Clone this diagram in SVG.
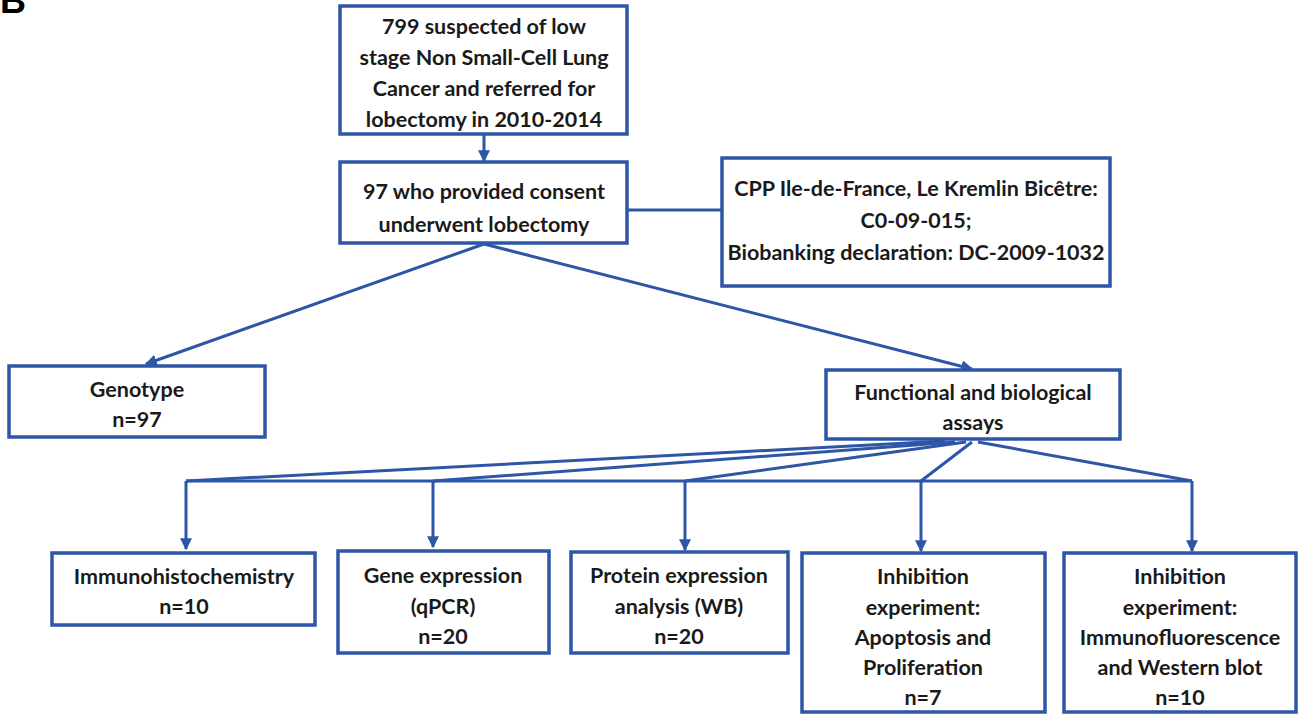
<svg xmlns="http://www.w3.org/2000/svg" width="1315" height="717" viewBox="0 0 1315 717">
<defs>
<marker id="ah" viewBox="0 0 10 10" refX="9" refY="5" markerWidth="4" markerHeight="4" markerUnits="strokeWidth" orient="auto">
<path d="M0,0 L10,5 L0,10 z" fill="#2d56a6"/>
</marker>
<style>
.box{fill:#ffffff;stroke:#2d56a6;stroke-width:3.5}
.t{font-family:Lato,"Liberation Sans",sans-serif;font-weight:bold;font-size:21.5px;fill:#1a1a1a;text-anchor:middle}
.c{fill:none;stroke:#2d56a6;stroke-width:3}
.ca{fill:none;stroke:#2d56a6;stroke-width:3;marker-end:url(#ah)}
</style>
</defs>
<rect width="1315" height="717" fill="#ffffff"/>
<text x="0" y="13" style="font-family:'Liberation Sans',sans-serif;font-weight:bold;font-size:36px;fill:#000">B</text>
<g id="connectors">
<line class="ca" x1="484" y1="135" x2="484" y2="161"/>
<line class="c" x1="627" y1="210" x2="722" y2="210"/>
<line class="ca" x1="484" y1="244" x2="146" y2="364"/>
<line class="ca" x1="484" y1="244" x2="972" y2="369"/>
<line class="c" x1="186" y1="481" x2="1192" y2="481"/>
<line class="c" x1="945" y1="441" x2="186" y2="481"/>
<line class="c" x1="955" y1="442" x2="433" y2="481"/>
<line class="c" x1="966" y1="442" x2="685" y2="481"/>
<line class="c" x1="972" y1="442" x2="921" y2="481"/>
<line class="c" x1="978" y1="442" x2="1192" y2="481"/>
<line class="ca" x1="186" y1="481" x2="186" y2="549"/>
<line class="ca" x1="433" y1="481" x2="433" y2="547"/>
<line class="ca" x1="685" y1="481" x2="685" y2="550"/>
<line class="ca" x1="921" y1="481" x2="921" y2="551"/>
<line class="ca" x1="1192" y1="481" x2="1192" y2="551"/>
</g>
<g id="n_top">
<rect class="box" x="340" y="6" width="287" height="128"/>
<text class="t" x="484" y="34">799 suspected of low</text>
<text class="t" x="484" y="65">stage Non Small-Cell Lung</text>
<text class="t" x="484" y="96">Cancer and referred for</text>
<text class="t" x="484" y="127">lobectomy in 2010-2014</text>
</g>
<g id="n_consent">
<rect class="box" x="340" y="162" width="287" height="81"/>
<text class="t" x="484" y="199">97 who provided consent</text>
<text class="t" x="484" y="232">underwent lobectomy</text>
</g>
<g id="n_cpp">
<rect class="box" x="722" y="158" width="388" height="128"/>
<text class="t" x="916" y="196">CPP Ile-de-France, Le Kremlin Bicêtre:</text>
<text class="t" x="916" y="228">C0-09-015;</text>
<text class="t" x="916" y="260">Biobanking declaration: DC-2009-1032</text>
</g>
<g id="n_genotype">
<rect class="box" x="9" y="366" width="256" height="71"/>
<text class="t" x="137" y="397">Genotype</text>
<text class="t" x="137" y="427">n=97</text>
</g>
<g id="n_functional">
<rect class="box" x="826" y="370" width="294" height="69"/>
<text class="t" x="973" y="400">Functional and biological</text>
<text class="t" x="973" y="430">assays</text>
</g>
<g id="n_ihc">
<rect class="box" x="52" y="553" width="263" height="72"/>
<text class="t" x="184" y="584">Immunohistochemistry</text>
<text class="t" x="184" y="614">n=10</text>
</g>
<g id="n_gene">
<rect class="box" x="338" y="551" width="211" height="102"/>
<text class="t" x="443" y="583">Gene expression</text>
<text class="t" x="443" y="614">(qPCR)</text>
<text class="t" x="443" y="644">n=20</text>
</g>
<g id="n_protein">
<rect class="box" x="571" y="552" width="217" height="101"/>
<text class="t" x="679" y="583">Protein expression</text>
<text class="t" x="679" y="614">analysis (WB)</text>
<text class="t" x="679" y="644">n=20</text>
</g>
<g id="n_inhib1">
<rect class="box" x="802" y="553" width="243" height="159"/>
<text class="t" x="923" y="584">Inhibition</text>
<text class="t" x="923" y="615">experiment:</text>
<text class="t" x="923" y="645">Apoptosis and</text>
<text class="t" x="923" y="675">Proliferation</text>
<text class="t" x="923" y="705">n=7</text>
</g>
<g id="n_inhib2">
<rect class="box" x="1064" y="553" width="232" height="159"/>
<text class="t" x="1180" y="584">Inhibition</text>
<text class="t" x="1180" y="615">experiment:</text>
<text class="t" x="1180" y="645">Immunofluorescence</text>
<text class="t" x="1180" y="675">and Western blot</text>
<text class="t" x="1180" y="705">n=10</text>
</g>
</svg>
